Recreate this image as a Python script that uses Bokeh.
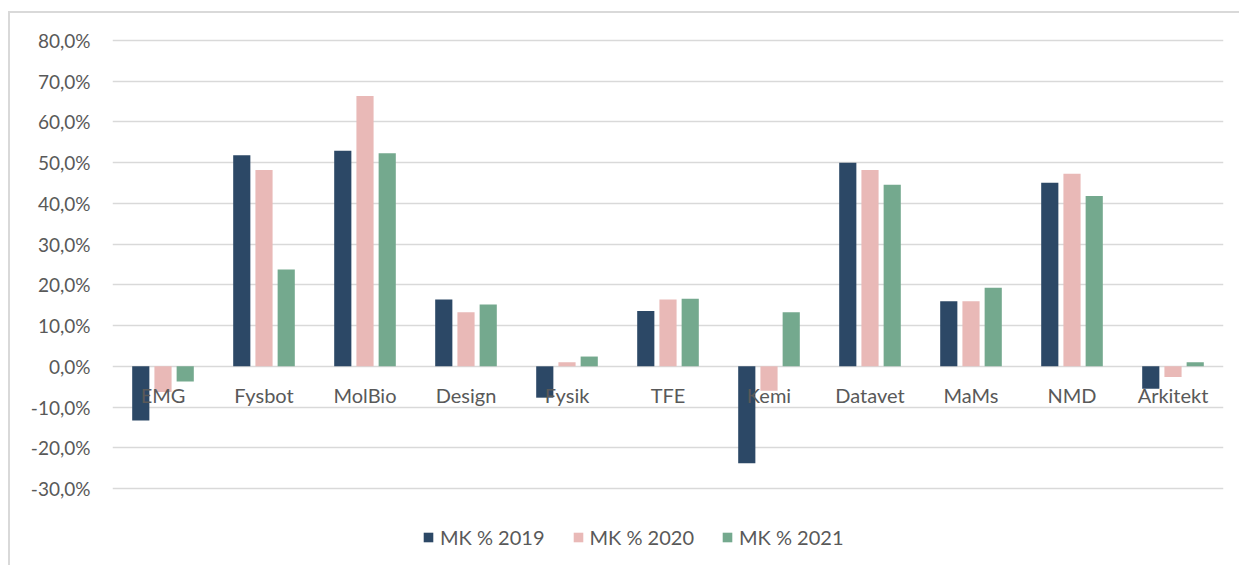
from bokeh.plotting import figure
from bokeh.layouts import column
from bokeh.models import (FactorRange, Range1d, FixedTicker, CustomJSTickFormatter,
                          Legend, LegendItem, ColumnDataSource)
from bokeh.transform import dodge
from bokeh.core.properties import value
from bokeh.embed import file_html
from bokeh.resources import INLINE

categories = ["EMG", "Fysbot", "MolBio", "Design", "Fysik", "TFE",
              "Kemi", "Datavet", "MaMs", "NMD", "Arkitekt"]
mk2019 = [-13.3, 51.8, 52.9, 16.4, -7.7, 13.6, -23.8, 50.0, 16.0, 45.1, -5.5]
mk2020 = [-6.3, 48.2, 66.4, 13.3, 1.0, 16.4, -6.0, 48.2, 16.0, 47.3, -2.6]
mk2021 = [-3.7, 23.8, 52.3, 15.2, 2.4, 16.6, 13.3, 44.6, 19.3, 41.8, 1.0]
series_names = ["MK % 2019", "MK % 2020", "MK % 2021"]
colors = ["#2c4866", "#e9b9b7", "#74a98e"]
y_ticks = [-30, -20, -10, 0, 10, 20, 30, 40, 50, 60, 70, 80]

FONT = "Lato"
TXT = "#595959"

source = ColumnDataSource(dict(cat=categories, v2019=mk2019, v2020=mk2020, v2021=mk2021))

# frame spans the legend area too, so the legend is not clipped
p = figure(x_range=FactorRange(*categories), y_range=Range1d(-46.45, 80.98),
           width=1221, height=546, output_backend="svg", toolbar_location=None,
           min_border_left=102, min_border_right=8, min_border_top=23, min_border_bottom=4)
p.outline_line_color = None
p.background_fill_color = "white"

renderers = []
for col, off, color in zip(["v2019", "v2020", "v2021"], [-0.22, 0.0, 0.22], colors):
    r = p.vbar(x=dodge("cat", off, range=p.x_range), top=col, bottom=0, width=0.17,
               source=source, fill_color=color, line_color=None)
    renderers.append(r)

p.text(x="cat", y=0, text="cat", source=source, y_offset=29,
       text_align="center", text_baseline="middle",
       text_font=value(FONT), text_font_size="20px", text_color=TXT)

p.xaxis.visible = False
p.xgrid.visible = False
p.ygrid.ticker = FixedTicker(ticks=y_ticks)
p.ygrid.grid_line_color = "#d9d9d9"
p.ygrid.grid_line_width = 1.5

p.yaxis.ticker = FixedTicker(ticks=y_ticks)
p.yaxis.formatter = CustomJSTickFormatter(code="return tick.toFixed(1).replace('.', ',') + '%';")
p.yaxis.axis_line_color = None
p.yaxis.major_tick_line_color = None
p.yaxis.minor_tick_line_color = None
p.yaxis.major_tick_out = 0
p.yaxis.major_tick_in = 0
p.yaxis.major_label_standoff = 22
p.yaxis.major_label_text_font = FONT
p.yaxis.major_label_text_font_size = "19px"
p.yaxis.major_label_text_color = TXT

legend = Legend(items=[LegendItem(label=n, renderers=[r]) for n, r in zip(series_names, renderers)],
                orientation="horizontal", location=(310, 6),
                glyph_width=12, glyph_height=12, label_standoff=6, spacing=27,
                label_text_font=FONT, label_text_font_size="20px", label_text_color=TXT,
                border_line_color=None, background_fill_alpha=0, padding=0, margin=0)
p.add_layout(legend)

page = column(p, styles={"margin-left": "8px", "margin-top": "11px",
                         "padding-right": "8px", "padding-bottom": "6px",
                         "border-top": "2px solid #d9d9d9", "border-left": "2px solid #d9d9d9"})

open("out.html", "w").write(file_html(page, INLINE))
